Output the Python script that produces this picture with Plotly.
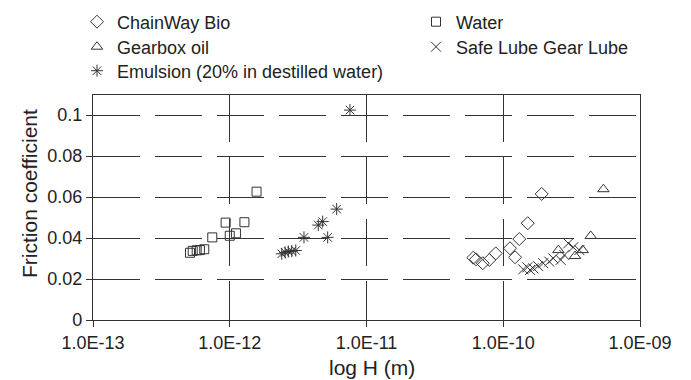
import plotly.graph_objects as go

# ---- data ----
water_h = [5.12e-13, 5.36e-13, 5.73e-13, 6.05e-13, 6.51e-13, 7.45e-13, 9.33e-13, 1.00e-12, 1.11e-12, 1.28e-12, 1.57e-12]
water_mu = [0.0328, 0.0337, 0.0340, 0.0341, 0.0345, 0.0403, 0.0475, 0.0411, 0.0423, 0.0477, 0.0626]

emul_h = [2.40e-12, 2.54e-12, 2.68e-12, 2.84e-12, 3.04e-12, 3.49e-12, 4.44e-12, 4.78e-12, 5.20e-12, 6.05e-12, 7.57e-12]
emul_mu = [0.0323, 0.0330, 0.0334, 0.0336, 0.0339, 0.0403, 0.0463, 0.0480, 0.0403, 0.0541, 0.1024]

chain_h = [6.04e-11, 6.32e-11, 7.08e-11, 7.91e-11, 8.81e-11, 1.12e-10, 1.22e-10, 1.31e-10, 1.51e-10, 1.91e-10]
chain_mu = [0.0304, 0.0296, 0.0277, 0.0293, 0.0325, 0.0350, 0.0306, 0.0395, 0.0472, 0.0615]

gear_h = [2.53e-10, 3.35e-10, 3.81e-10, 4.36e-10, 5.40e-10]
gear_mu = [0.0341, 0.0312, 0.0341, 0.0410, 0.0638]

safe_h = [1.40e-10, 1.50e-10, 1.57e-10, 1.66e-10, 1.80e-10, 1.96e-10, 2.17e-10, 2.32e-10, 2.63e-10, 2.80e-10, 2.99e-10, 3.25e-10, 3.60e-10]
safe_mu = [0.0247, 0.0257, 0.0244, 0.0252, 0.0263, 0.0277, 0.0285, 0.0301, 0.0293, 0.0317, 0.0374, 0.0355, 0.0341]

x_tickvals = [1e-13, 1e-12, 1e-11, 1e-10, 1e-9]
x_ticktext = ["1.0E-13", "1.0E-12", "1.0E-11", "1.0E-10", "1.0E-09"]
y_tickvals = [0, 0.02, 0.04, 0.06, 0.08, 0.1]
y_ticktext = ["0", "0.02", "0.04", "0.06", "0.08", "0.1"]

x_title = "log H (m)"
y_title = "Friction coefficient"

INK = "#333333"
FONT = "Liberation Sans, Arial, sans-serif"

# plot area in pixels
L, R, T, B = 93, 640, 95, 320
W, H = 691, 380

def px_x(px):
    return (px - L) / (R - L)

def px_y(py):
    return (B - py) / (B - T)

fig = go.Figure()

def add(name, xs, ys, symbol, size, legend):
    fig.add_trace(go.Scatter(
        x=xs, y=ys, mode="markers", name=name, legend=legend,
        marker=dict(symbol=symbol, size=size, color=INK,
                    line=dict(color=INK, width=1)),
    ))

add("ChainWay Bio", chain_h, chain_mu, "diamond-open", 10, "legend")
add("Water", water_h, water_mu, "square-open", 9, "legend2")
add("Gearbox oil", gear_h, gear_mu, "triangle-up-open", 10, "legend3")
add("Safe Lube Gear Lube", safe_h, safe_mu, "x-thin-open", 10, "legend4")
add("Emulsion (20% in destilled water)", emul_h, emul_mu, "asterisk-open", 10, "legend5")

def leg(px, py):
    return dict(
        orientation="h", xref="paper", yref="paper",
        x=px_x(px), y=px_y(py), xanchor="left", yanchor="middle",
        font=dict(size=18, color="#222"),
        itemwidth=30, bgcolor="rgba(0,0,0,0)",
    )

col1, col2 = 77, 416
row1, row2, row3 = 22, 47, 71

fig.update_layout(
    width=W, height=H,
    margin=dict(l=L, r=W - R, t=T, b=H - B, autoexpand=False),
    paper_bgcolor="white", plot_bgcolor="white",
    font=dict(family=FONT, size=18, color="#222"),
    showlegend=True,
    legend=leg(col1, row1),
    legend2=leg(col2, row1),
    legend3=leg(col1, row2),
    legend4=leg(col2, row2),
    legend5=leg(col1, row3),
    annotations=[
        dict(text=x_title, xref="paper", yref="paper",
             x=px_x(372), y=px_y(367), xanchor="center", yanchor="middle",
             showarrow=False, font=dict(size=21, color="#222")),
        dict(text=y_title, xref="paper", yref="paper", textangle=-90,
             x=px_x(29), y=px_y(194), xanchor="center", yanchor="middle",
             showarrow=False, font=dict(size=21, color="#222")),
    ],
)

fig.update_xaxes(
    type="log", range=[-13, -9],
    tickvals=x_tickvals, ticktext=x_ticktext,
    ticks="outside", ticklen=6, tickcolor=INK, tickwidth=1.2,
    showline=True, linecolor=INK, linewidth=1.2, mirror=True,
    showgrid=True, gridcolor=INK, gridwidth=1.3, griddash="47px,15px",
    zeroline=False,
    tickfont=dict(size=18),
)
fig.update_yaxes(
    range=[0, 0.10976],
    tickvals=y_tickvals, ticktext=y_ticktext,
    ticks="outside", ticklen=6, tickcolor=INK, tickwidth=1.2,
    showline=True, linecolor=INK, linewidth=1.2, mirror=True,
    showgrid=True, gridcolor=INK, gridwidth=1.3, griddash="47px,15px",
    zeroline=False,
    tickfont=dict(size=18),
)

fig.write_html(
    "out.html",
    config={"displayModeBar": False},
    post_script="document.body.style.margin='0';document.body.style.padding='0';",
)
